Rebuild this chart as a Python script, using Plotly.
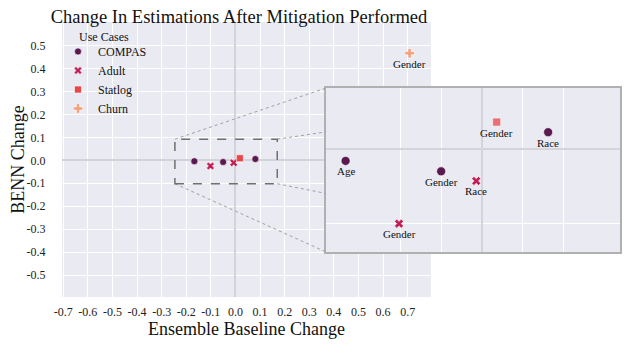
import plotly.graph_objects as go

# ---------------- data ----------------
use_cases = ["COMPAS", "Adult", "Statlog", "Churn"]
compas_x = [-0.167, -0.050, 0.081]
compas_y = [-0.004, -0.0075, 0.0056]
compas_lbl = ["Age", "Gender", "Race"]
adult_x = [-0.1016, -0.007]
adult_y = [-0.025, -0.0107]
adult_lbl = ["Gender", "Race"]
statlog_x = [0.018]
statlog_y = [0.009]
statlog_lbl = ["Gender"]
churn_x = [0.708]
churn_y = [0.466]
churn_lbl = ["Gender"]

x_ticks = [-0.7, -0.6, -0.5, -0.4, -0.3, -0.2, -0.1, 0.0, 0.1, 0.2, 0.3, 0.4, 0.5, 0.6, 0.7]
x_ticktext = ["-0.7", "-0.6", "-0.5", "-0.4", "-0.3", "-0.2", "-0.1", "0.0", "0.1",
              "0.2", "0.3", "0.4", "0.5", "0.6", "0.7"]
y_ticks = [-0.5, -0.4, -0.3, -0.2, -0.1, 0.0, 0.1, 0.2, 0.3, 0.4, 0.5]
y_ticktext = ["-0.5", "-0.4", "-0.3", "-0.2", "-0.1", "0.0", "0.1", "0.2", "0.3", "0.4", "0.5"]
inset_xticks = [-0.1, -0.05, 0.0, 0.05, 0.1]
inset_yticks = [-0.025, 0.0]

# ---------------- styling ----------------
colors = {"COMPAS": "#5b1a4f", "Adult": "#c01e56", "Statlog": "#e8474a", "Churn": "#f4a07c"}
symbols = {"COMPAS": "circle", "Adult": "x", "Statlog": "square", "Churn": "cross"}
FONT = "Liberation Serif"
BG = "#eaeaf2"

W, H = 640, 360
OFF = 8  # page body margin
ML = 62 - OFF
MT = 22 - OFF
PLOT_R = 620 - OFF
PLOT_B = 297 - OFF
MR = W - PLOT_R
MB = H - PLOT_B
PW = W - ML - MR
PH = H - MT - MB

main_xr = [-0.705, 0.795]
main_yr = [-0.595, 0.602]
main_dx = [0.0, (431 - 62) / PW]
inset_xr = [-0.191, 0.169]
inset_yr = [-0.0345, 0.0204]
inset_dx = [(326 - 62) / PW, 1.0]
inset_dy = [(297 - 252) / PH, (297 - 88) / PH]
zoom_box = [-0.246, 0.170, -0.102, 0.092]  # x0, x1, y0, y1

series = [
    ("COMPAS", compas_x, compas_y, compas_lbl),
    ("Adult", adult_x, adult_y, adult_lbl),
    ("Statlog", statlog_x, statlog_y, statlog_lbl),
    ("Churn", churn_x, churn_y, churn_lbl),
]

fig = go.Figure()

main_size = {"COMPAS": 7, "Adult": 7, "Statlog": 7, "Churn": 8}
inset_size = {"COMPAS": 9, "Adult": 8, "Statlog": 8, "Churn": 9}
annotations = []
LABEL_FONT = dict(family=FONT, size=11, color="#111")

for name, xs, ys, lbl in series:
    fig.add_trace(go.Scatter(
        x=xs, y=ys, name=name, mode="markers",
        marker=dict(symbol=symbols[name], color=colors[name], size=main_size[name],
                    line=dict(color="white", width=0.6)),
        xaxis="x", yaxis="y", showlegend=True, cliponaxis=False,
    ))
    if name == "Churn":
        for xv, yv, t in zip(xs, ys, lbl):
            annotations.append(dict(x=xv, y=yv, xref="x", yref="y", text=t,
                                    showarrow=False, yshift=-11, yanchor="middle",
                                    font=LABEL_FONT))

for name, xs, ys, lbl in series:
    if name == "Churn":
        continue
    fig.add_trace(go.Scatter(
        x=xs, y=ys, name=name, mode="markers",
        marker=dict(symbol=symbols[name], color=colors[name], size=inset_size[name],
                    opacity=0.75 if name == "Statlog" else 1.0,
                    line=dict(color="white", width=0.6)),
        xaxis="x2", yaxis="y2", showlegend=False, cliponaxis=False,
    ))
    for xv, yv, t in zip(xs, ys, lbl):
        annotations.append(dict(x=xv, y=yv, xref="x2", yref="y2", text=t,
                                showarrow=False, yshift=-10.5, yanchor="middle",
                                font=LABEL_FONT))

# ---- geometry helpers for inset connectors (paper coords) ----
def px_x(v):
    return main_dx[0] + (main_dx[1] - main_dx[0]) * (v - main_xr[0]) / (main_xr[1] - main_xr[0])

def px_y(v):
    return (v - main_yr[0]) / (main_yr[1] - main_yr[0])

rx0, rx1 = px_x(zoom_box[0]), px_x(zoom_box[1])
ry0, ry1 = px_y(zoom_box[2]), px_y(zoom_box[3])
ix0, ix1 = inset_dx
iy0, iy1 = inset_dy

def clip_to(xa, ya, xb, yb, xc):
    t = (xc - xa) / (xb - xa)
    return xc, ya + t * (yb - ya)

shapes = []
conn = dict(type="line", xref="paper", yref="paper",
            line=dict(color="#a0a0a0", width=1, dash="dot"), layer="above")
shapes.append(dict(conn, x0=rx0, y0=ry1, x1=ix0, y1=iy1))
shapes.append(dict(conn, x0=rx0, y0=ry0, x1=ix0, y1=iy0))
cx, cy = clip_to(rx1, ry1, ix1, iy1, ix0)
shapes.append(dict(conn, x0=rx1, y0=ry1, x1=cx, y1=cy))
cx, cy = clip_to(rx1, ry0, ix1, iy0, ix0)
shapes.append(dict(conn, x0=rx1, y0=ry0, x1=cx, y1=cy))

shapes.append(dict(type="rect", xref="x", yref="y",
                   x0=zoom_box[0], x1=zoom_box[1], y0=zoom_box[2], y1=zoom_box[3],
                   line=dict(color="#707070", width=1.5, dash="dash"), layer="above"))

axis_common = dict(showgrid=True, gridcolor="white", gridwidth=1,
                   zeroline=True, zerolinecolor="#d2d2d9", zerolinewidth=2,
                   tickfont=dict(family=FONT, size=12, color="#222"),
                   tickcolor="rgba(0,0,0,0)", ticks="outside",
                   showline=False, automargin=False)

inset_common = dict(showgrid=True, gridcolor="white", gridwidth=1, zeroline=True,
                    zerolinecolor="#d4d4da", zerolinewidth=2, showticklabels=False,
                    ticks="", showline=True, mirror=True, linecolor="#b0b0b0",
                    linewidth=1.5, automargin=False)

annotations.append(dict(text="Use Cases", xref="paper", yref="paper",
                        x=(77 - OFF - ML) / PW, y=(PLOT_B - (37 - OFF)) / PH,
                        xanchor="left", yanchor="middle", showarrow=False,
                        font=dict(family=FONT, size=12, color="#111")))

fig.update_layout(
    width=W, height=H,
    margin=dict(l=ML, r=MR, t=MT, b=MB),
    paper_bgcolor="white", plot_bgcolor=BG,
    font=dict(family=FONT, color="#111"),
    title=dict(text="Change In Estimations After Mitigation Performed",
               font=dict(family=FONT, size=18.5, color="#111"),
               x=(239 - OFF) / W, xanchor="center",
               y=1 - 8.5 / H, yanchor="middle", yref="container"),
    xaxis=dict(axis_common, domain=main_dx, range=main_xr, tickvals=x_ticks,
               ticktext=x_ticktext, ticklen=4,
               title=dict(text="Ensemble Baseline Change", font=dict(family=FONT, size=18),
                          standoff=1),
               anchor="y"),
    yaxis=dict(axis_common, domain=[0, 1], range=main_yr, tickvals=y_ticks,
               ticktext=y_ticktext, ticklen=13,
               title=dict(text="BENN Change", font=dict(family=FONT, size=18), standoff=11),
               anchor="x"),
    xaxis2=dict(inset_common, domain=inset_dx, range=inset_xr, tickvals=inset_xticks,
                anchor="y2"),
    yaxis2=dict(inset_common, domain=inset_dy, range=inset_yr, tickvals=inset_yticks,
                anchor="x2"),
    legend=dict(x=(58 - OFF - ML) / PW, y=(PLOT_B - (37 - OFF)) / PH,
                xanchor="left", yanchor="top",
                bgcolor="rgba(0,0,0,0)", borderwidth=0,
                font=dict(family=FONT, size=12, color="#111"),
                itemwidth=30, tracegroupgap=0),
    annotations=annotations,
    shapes=shapes,
)

fig.write_html("out.html")
